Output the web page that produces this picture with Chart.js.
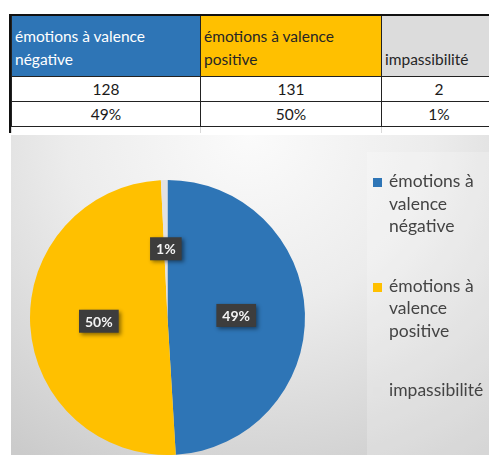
<!DOCTYPE html>
<html lang="fr">
<head>
<meta charset="utf-8">
<script src="https://cdn.jsdelivr.net/npm/chart.js@4/dist/chart.umd.min.js"></script>
<style>
  html, body { margin: 0; padding: 0; background: #fff; width: 489px; height: 455px; overflow: hidden; }
  body { position: relative; font-family: Lato, "Open Sans", sans-serif; }
  #sheet { position: absolute; left: 9px; top: 14px; width: 490px; border-top: 2px solid #111; border-left: 2px solid #111; }
  #sheet table { border-collapse: collapse; table-layout: fixed; width: 485px; }
  #sheet td { border: 1px solid #222; padding: 0; font-size: 15.5px; color: #1a1a1a; white-space: nowrap; overflow: hidden; }
  #sheet tr.head td { height: 55px; vertical-align: bottom; line-height: 23px; padding: 0 0 5px 3px; border-top: none; }
  #sheet tr.val td { height: 24px; text-align: center; line-height: 24px; }
  #sheet tr.gap td { height: 6px; border: 1px solid #d8d8d8; border-top: 1px solid #222; border-bottom: none; }
  #plot { position: absolute; left: 11px; top: 135px; width: 478px; height: 320px;
          background: radial-gradient(ellipse 85% 120% at 50% 0%, #fbfbfb 0%, #ececec 45%, #cbcbcb 100%); }
  #legendBox { position: absolute; left: 356px; top: 17px; width: 130px; height: 303px;
               background: rgba(255,255,255,0.22); }
  #chart { position: absolute; left: 0; top: 0; }
  #legend { position: absolute; left: 362px; top: 35px; color: #444; font-size: 17.5px; line-height: 22.5px; }
  .item { position: relative; padding-left: 16px; margin-bottom: 37px; white-space: nowrap; }
  .swatch { position: absolute; left: 0; top: 8px; width: 9px; height: 9px; }
</style>
</head>
<body>
<div id="sheet"><table id="grid"></table></div>
<div id="plot">
  <div id="legendBox"></div>
  <canvas id="chart" width="478" height="320"></canvas>
  <div id="legend"></div>
</div>
<script>
// categories, counts and colours
const categories = ['émotions à valence négative', 'émotions à valence positive', 'impassibilité'];
const legendLines = [['émotions à', 'valence', 'négative'], ['émotions à', 'valence', 'positive'], ['impassibilité']];
const counts = [128, 131, 2];
const sliceColors = ['#2e75b6', '#ffc000', '#e2e2e2'];
const headColors = ['#2e75b6', '#ffc000', '#dcdcdc'];
const headText = ['#ffffff', '#262626', '#262626'];
const colWidths = [189, 181, 115];

const total = counts.reduce((a, b) => a + b, 0);
const percents = counts.map(v => Math.round(v / total * 100) + '%');

// spreadsheet block above the chart
function buildTable() {
  const grid = document.getElementById('grid');
  let html = '<colgroup>' + colWidths.map(w => `<col style="width:${w}px">`).join('') + '</colgroup>';
  html += '<tr class="head">' + categories.map((c, i) => {
    const words = c === 'impassibilité' ? c : c.replace(' négative', '<br>négative').replace(' positive', '<br>positive');
    return `<td style="background:${headColors[i]};color:${headText[i]}">${words}</td>`;
  }).join('') + '</tr>';
  html += '<tr class="val">' + counts.map(v => `<td>${v}</td>`).join('') + '</tr>';
  html += '<tr class="val">' + percents.map(p => `<td>${p}</td>`).join('') + '</tr>';
  html += '<tr class="gap">' + categories.map(() => '<td></td>').join('') + '</tr>';
  grid.innerHTML = html;
}

function buildLegend() {
  const legend = document.getElementById('legend');
  legend.innerHTML = legendLines.map((lines, i) =>
    `<div class="item"><span class="swatch" style="background:${sliceColors[i]}"></span>${lines.join('<br>')}</div>`
  ).join('');
}

// dark value boxes in the middle of each slice
const sliceLabels = {
  id: 'sliceLabels',
  afterDatasetsDraw(chart) {
    const ctx = chart.ctx;
    const meta = chart.getDatasetMeta(0);
    ctx.save();
    ctx.font = 'bold 14px Lato, sans-serif';
    ctx.textAlign = 'center';
    ctx.textBaseline = 'middle';
    meta.data.forEach((arc, i) => {
      const p = arc.getCenterPoint();
      const text = percents[i];
      const w = ctx.measureText(text).width + 12;
      const h = 23;
      ctx.shadowColor = 'rgba(0,0,0,0.45)';
      ctx.shadowBlur = 4;
      ctx.shadowOffsetX = 2;
      ctx.shadowOffsetY = 2;
      ctx.fillStyle = '#3d3d3d';
      ctx.fillRect(p.x - w / 2, p.y - h / 2, w, h);
      ctx.shadowColor = 'transparent';
      ctx.fillStyle = '#f4f4f4';
      ctx.fillText(text, p.x, p.y + 1);
    });
    ctx.restore();
  }
};

function createChart() {
  new Chart(document.getElementById('chart'), {
    type: 'pie',
    data: {
      labels: categories,
      datasets: [{
        data: counts,
        backgroundColor: sliceColors,
        borderWidth: 0
      }]
    },
    options: {
      responsive: false,
      animation: false,
      layout: { padding: { left: 19, top: 45, right: 184, bottom: 0 } },
      plugins: { legend: { display: false }, tooltip: { enabled: false } }
    },
    plugins: [sliceLabels]
  });
}

window.onload = function() {
  buildTable();
  buildLegend();
  createChart();
};
</script>
</body>
</html>
